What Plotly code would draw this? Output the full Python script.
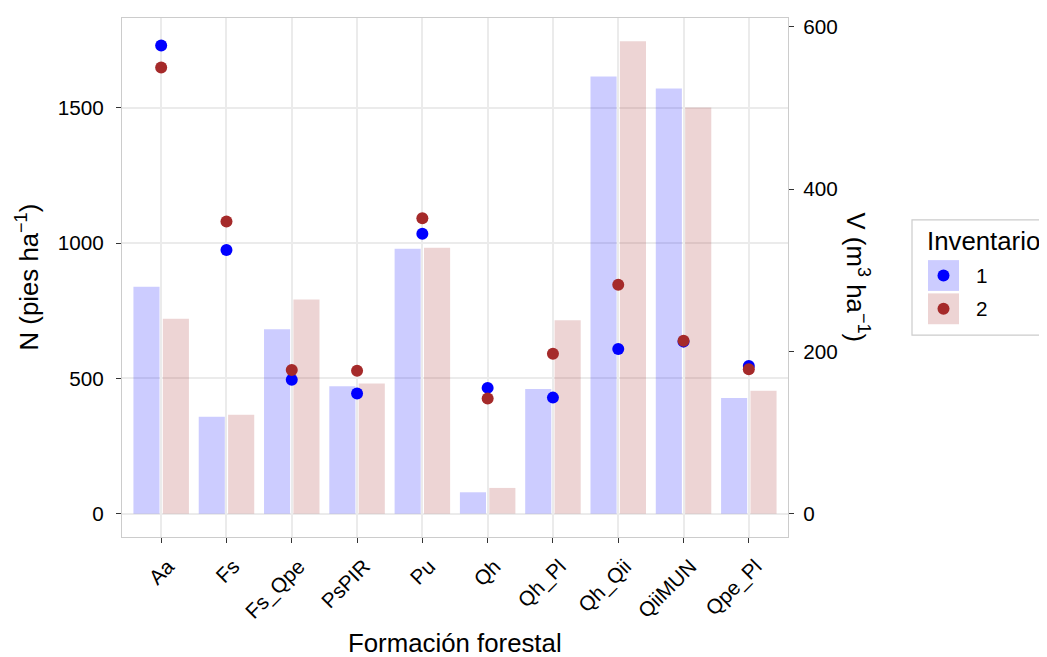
import plotly.graph_objects as go

# ---- data ----
categories = ["Aa", "Fs", "Fs_Qpe", "PsPIR", "Pu", "Qh", "Qh_Pl", "Qh_Qii", "QiiMUN", "Qpe_Pl"]
N_inv1 = [839, 358, 682, 471, 979, 79, 461, 1616, 1572, 428]
N_inv2 = [721, 366, 792, 481, 983, 95, 715, 1747, 1502, 454]
V_inv1 = [577, 325, 165, 148, 345, 155, 143, 203, 212, 182]
V_inv2 = [550, 360, 177, 176, 364, 142, 197, 282, 213, 178]
legend_labels = ["1", "2"]

BLUE = "#0000FF"
BROWN = "#A52A2A"
BLUE_BAR = "rgba(0,0,255,0.2)"
BROWN_BAR = "rgba(165,42,42,0.2)"
FONT = "Arial, Liberation Sans, sans-serif"
TITLE_SIZE = 25.8
TICK_SIZE = 20.7

# page body margin (8px) is compensated by shrinking the figure
OFF = 8
W, H = 1047 - OFF, 657 - OFF
L, R, T = 122 - OFF, 259, 15 - OFF
B = H - (537 - OFF)
PW, PH = W - L - R, H - T - B


def px2x(px):
    return (px - OFF - L) / PW


def px2y(py):
    return (T + PH - (py - OFF)) / PH


fig = go.Figure()

fig.add_trace(go.Bar(x=categories, y=N_inv1, width=0.4, offset=-0.425,
                     marker=dict(color=BLUE_BAR, line=dict(width=0)),
                     showlegend=False, yaxis="y"))
fig.add_trace(go.Bar(x=categories, y=N_inv2, width=0.4, offset=0.025,
                     marker=dict(color=BROWN_BAR, line=dict(width=0)),
                     showlegend=False, yaxis="y"))
fig.add_trace(go.Scatter(x=categories, y=V_inv1, mode="markers",
                         marker=dict(color=BLUE, size=12, line=dict(width=0)),
                         showlegend=False, yaxis="y2"))
fig.add_trace(go.Scatter(x=categories, y=V_inv2, mode="markers",
                         marker=dict(color=BROWN, size=12, line=dict(width=0)),
                         showlegend=False, yaxis="y2"))

y_lo, y_hi = -86.4, 1832.7

fig.update_layout(
    width=W, height=H,
    margin=dict(l=L, r=R, t=T, b=B, pad=0),
    paper_bgcolor="white", plot_bgcolor="white",
    barmode="overlay",
    showlegend=False,
    font=dict(family=FONT, color="black"),
    xaxis=dict(
        type="category", categoryorder="array", categoryarray=categories,
        range=[-0.6, len(categories) - 0.4],
        showgrid=True, gridcolor="#EBEBEB", gridwidth=1.5,
        showline=True, linecolor="#CCCCCC", linewidth=1.4, mirror=True,
        ticks="outside", ticklen=5, tickcolor="#333333", tickwidth=1.4,
        tickangle=-45, tickfont=dict(size=TICK_SIZE, color="black", family=FONT),
        ticklabelstandoff=3, ticklabelshift=7,
        zeroline=False,
    ),
    yaxis=dict(
        range=[y_lo, y_hi],
        tickvals=[0, 500, 1000, 1500],
        showgrid=True, gridcolor="#EBEBEB", gridwidth=1.5,
        showline=True, linecolor="#CCCCCC", linewidth=1.4, mirror=True,
        ticks="outside", ticklen=5, tickcolor="#333333", tickwidth=1.4,
        tickfont=dict(size=TICK_SIZE, color="black", family=FONT),
        ticklabelstandoff=8,
        zeroline=False,
    ),
    yaxis2=dict(
        overlaying="y", side="right",
        range=[y_lo / 3, y_hi / 3],
        tickvals=[0, 200, 400, 600],
        showgrid=False, showline=False, zeroline=False,
        ticks="outside", ticklen=5, tickcolor="#333333", tickwidth=1.4,
        tickfont=dict(size=TICK_SIZE, color="black", family=FONT),
        ticklabelstandoff=5,
    ),
)

annotations = [
    dict(text="Formación forestal", xref="paper", yref="paper",
         x=px2x(455), y=px2y(644), xanchor="center", yanchor="middle",
         showarrow=False, font=dict(size=TITLE_SIZE, family=FONT, color="black")),
    dict(text="N (pies ha<sup>−1</sup>)", xref="paper", yref="paper",
         x=px2x(27), y=px2y(276), xanchor="center", yanchor="middle",
         textangle=-90, showarrow=False, font=dict(size=TITLE_SIZE, family=FONT, color="black")),
    dict(text="V (m<sup>3</sup> ha<sup>−1</sup>)", xref="paper", yref="paper",
         x=px2x(858), y=px2y(276), xanchor="center", yanchor="middle",
         textangle=90, showarrow=False, font=dict(size=TITLE_SIZE, family=FONT, color="black")),
    dict(text="Inventario", xref="paper", yref="paper",
         x=px2x(925), y=px2y(239), xanchor="left", yanchor="middle",
         showarrow=False, font=dict(size=TITLE_SIZE, family=FONT, color="black")),
]

shapes = [
    dict(type="rect", xref="paper", yref="paper",
         x0=px2x(912), x1=px2x(1052), y0=px2y(218), y1=px2y(334),
         line=dict(color="#CCCCCC", width=1.2), fillcolor="rgba(0,0,0,0)", layer="above"),
]

key_y = [274, 307.5]
key_fill = [BLUE_BAR, BROWN_BAR]
key_dot = [BLUE, BROWN]
for i, lab in enumerate(legend_labels):
    cy = key_y[i]
    shapes.append(dict(type="rect", xref="paper", yref="paper",
                       x0=px2x(928), x1=px2x(959), y0=px2y(cy - 15.5), y1=px2y(cy + 15.5),
                       line=dict(width=0), fillcolor=key_fill[i], layer="above"))
    shapes.append(dict(type="circle", xref="paper", yref="paper",
                       x0=px2x(943.5 - 6), x1=px2x(943.5 + 6), y0=px2y(cy - 6), y1=px2y(cy + 6),
                       line=dict(width=0), fillcolor=key_dot[i], layer="above"))
    annotations.append(dict(text=lab, xref="paper", yref="paper",
                            x=px2x(974), y=px2y(cy), xanchor="left", yanchor="middle",
                            showarrow=False, font=dict(size=TICK_SIZE, family=FONT, color="black")))

fig.update_layout(annotations=annotations, shapes=shapes)

fig.write_html("out.html")
